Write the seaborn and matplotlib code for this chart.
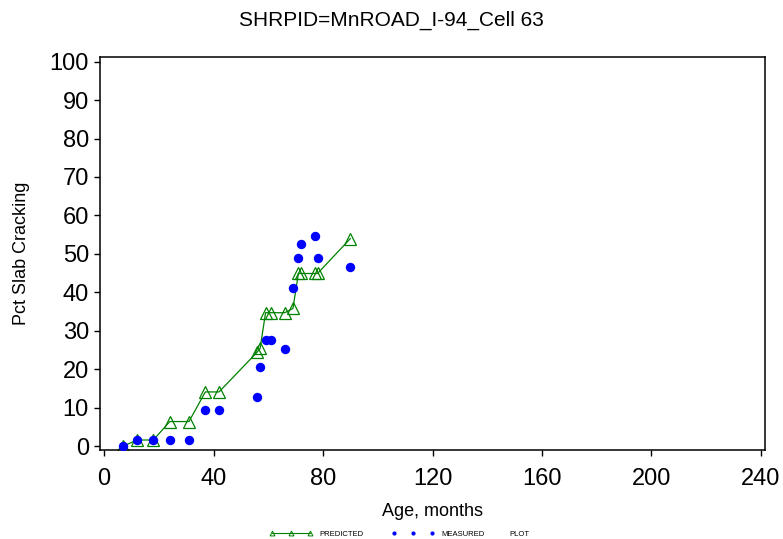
import matplotlib
matplotlib.use("Agg")
import matplotlib.pyplot as plt
from matplotlib.lines import Line2D
import seaborn as sns
import pandas as pd

# age in months and cracking values
age_pred = [7, 12, 18, 24, 31, 37, 42, 56, 57, 59, 61, 66, 69, 71, 72, 77, 78, 90]
pct_pred = [0, 1.6, 1.6, 6.4, 6.4, 14.1, 14.1, 24.5, 25.4, 34.7, 34.7, 34.7, 35.8, 44.9, 44.9, 44.9, 44.9, 54.0]

age_meas = [7, 12, 18, 24, 31, 37, 42, 56, 57, 59, 61, 66, 69, 71, 72, 77, 78, 90]
pct_meas = [0, 1.5, 1.5, 1.5, 1.5, 9.3, 9.3, 12.8, 20.6, 27.5, 27.5, 25.2, 41.0, 48.9, 52.5, 54.7, 48.9, 46.7]

x_ticks = [0, 40, 80, 120, 160, 200, 240]
y_ticks = list(range(0, 101, 10))

df_pred = pd.DataFrame({"age": age_pred, "pct": pct_pred})
df_meas = pd.DataFrame({"age": age_meas, "pct": pct_meas})

sns.set_style("ticks")
plt.rcParams["font.family"] = ["Liberation Sans", "DejaVu Sans"]
plt.rcParams.update({"text.color": "black", "axes.labelcolor": "black",
                     "xtick.color": "black", "ytick.color": "black"})

green = "#008000"
blue = "#0000ff"

fig = plt.figure(figsize=(7.83, 5.39), dpi=100)
ax = fig.add_axes([100 / 783, 1 - 450 / 539, 665 / 783, 393 / 539])

sns.lineplot(data=df_pred, x="age", y="pct", ax=ax, estimator=None, sort=False,
             color=green, linewidth=0.9, marker="^", markersize=9,
             markerfacecolor="none", markeredgecolor=green, markeredgewidth=0.9)
sns.scatterplot(data=df_meas, x="age", y="pct", ax=ax, color=blue, s=46,
                edgecolor=blue, linewidth=0, zorder=3)

ax.set_xlim(-1.5, 241.5)
ax.set_ylim(-1.0, 101.2)
ax.set_xticks(x_ticks)
ax.set_yticks(y_ticks)
ax.tick_params(axis="both", labelsize=17, length=4, width=1, color="black")
ax.tick_params(axis="x", pad=9)
ax.tick_params(axis="y", pad=4)
for s in ax.spines.values():
    s.set_visible(True)
    s.set_linewidth(1.1)
    s.set_color("black")

ax.set_xlabel("Age, months", fontsize=13, labelpad=9)
ax.set_ylabel("Pct Slab Cracking", fontsize=13, labelpad=14)
fig.text(0.5, 1 - 20 / 539, "SHRPID=MnROAD_I-94_Cell 63", ha="center", va="center", fontsize=15)

handles = [
    Line2D([], [], color=green, linewidth=0.8, marker="^", markersize=3.5,
           markerfacecolor="none", markeredgecolor=green, markeredgewidth=0.7),
    Line2D([], [], color=blue, linestyle="none", marker="o", markersize=2),
]
fig.legend(handles, ["PREDICTED", "MEASURED"], loc="center left",
           bbox_to_anchor=(270 / 783, 1 - 534 / 539), ncol=2, frameon=False,
           numpoints=3, fontsize=5.5, handlelength=5.5, handletextpad=1.0,
           columnspacing=3.7, borderpad=0, borderaxespad=0)
fig.text(509 / 783, 1 - 534 / 539, "PLOT", ha="left", va="center", fontsize=5.5)

fig.savefig("out.png", dpi=100)
